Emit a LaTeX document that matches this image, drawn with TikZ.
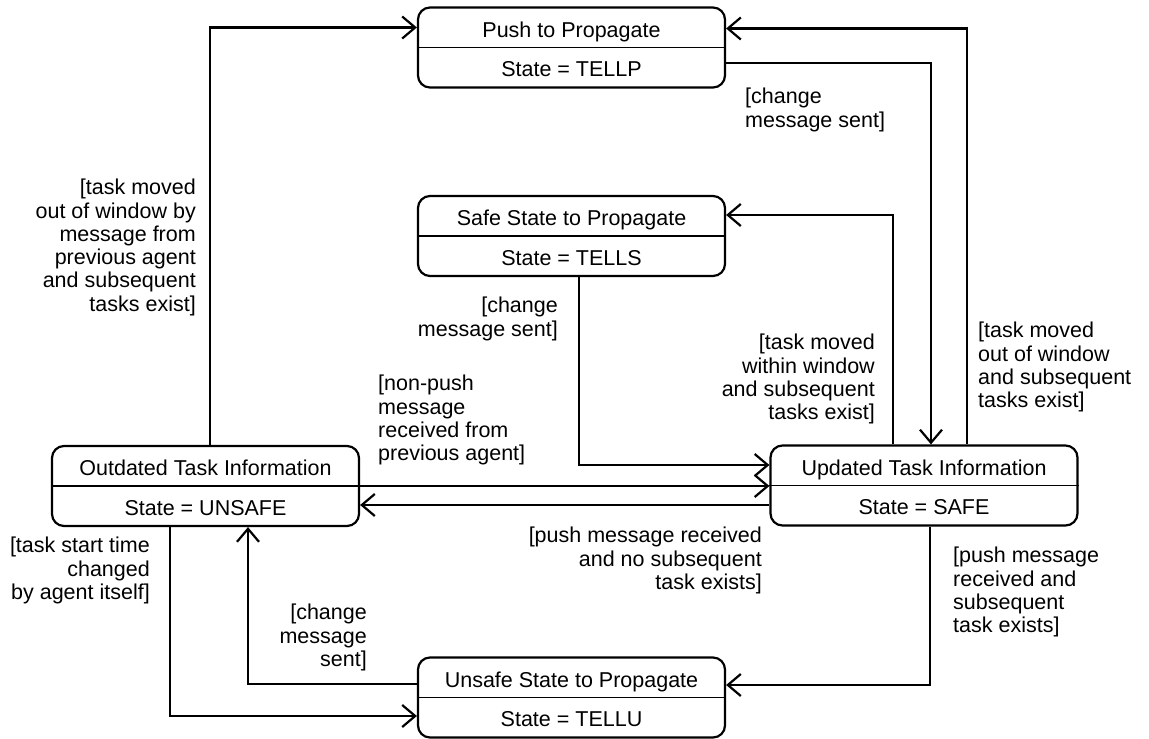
\documentclass[tikz,border=0pt]{standalone}
\usepackage{fontspec}
\setmainfont{Liberation Sans}
\usetikzlibrary{arrows.meta,calc}
\newcommand\diagfont{\fontsize{21.5pt}{23.3pt}\selectfont}
\tikzset{
  statebox/.style={draw, line width=2.2pt, rounded corners=12pt,
    minimum width=307pt, minimum height=80pt, inner sep=0pt},
  divider/.style={line width=1.8pt},
  boxtext/.style={inner sep=0pt, font=\diagfont, anchor=base},
  guard/.style={inner sep=0pt, font=\diagfont},
  trans/.style={line width=2.2pt, -{Straight Barb[length=13pt,width=22pt]}},
}
% a state: rounded box, divider, name above and state value below
\newcommand\umlstate[4]{%
  \node[statebox] (#1) at (#2) {};
  \draw[divider] (#1.west) -- (#1.east);
  \node[boxtext] (#1-name) at ($(#1.center)+(0,-10.5)$) {#3};
  \node[boxtext] (#1-val) at ($(#1.center)+(0,29)$) {#4};
}
\begin{document}
\begin{tikzpicture}[x=1pt,y=-1pt]
\useasboundingbox (0,0) rectangle (1149,739);

\umlstate{push}{571.5,47.5}{Push to Propagate}{State = TELLP}
\umlstate{safe}{571.5,236}{Safe State to Propagate}{State = TELLS}
\umlstate{outd}{205.5,486}{Outdated Task Information}{State = UNSAFE}
\umlstate{upd}{924,485.5}{Updated Task Information}{State = SAFE}
\umlstate{unsafe}{571.5,697.5}{Unsafe State to Propagate}{State = TELLU}

% transitions
\draw[trans] ($(outd.north)+(4.5,0)$) |- ($(push.west)+(0,-20)$);
\draw[trans] ($(push.east)+(0,15.5)$) -| ($(upd.north)+(7,0)$);
\draw[trans] ($(upd.north)+(43,0)$) |- ($(push.east)+(0,-19)$);
\draw[trans] ($(upd.north)+(-31,0)$) |- ($(safe.east)+(0,-21)$);
\draw[trans] ($(safe.south)+(7.5,0)$) |- ($(upd.west)+(0,-20.5)$);
\draw[trans] (outd.east) -- (outd.east -| upd.west);
\draw[trans] ($(upd.west)+(0,19.5)$) -- ($(outd.east)+(0,19)$);
\draw[trans] ($(outd.south)+(-35.5,0)$) |- ($(unsafe.west)+(0,18.5)$);
\draw[trans] ($(unsafe.west)+(0,-13.5)$) -| ($(outd.south)+(42.5,0)$);
\draw[trans] ($(upd.south)+(6,0)$) |- ($(unsafe.east)+(0,-12.5)$);

% guards
\node[guard, anchor=north west, align=left] (g1) at (745,88) {[change\\message sent]};
\node[guard, anchor=north east, align=right] (g2) at (196,179)
  {[task moved\\out of window by\\message from\\previous agent\\and subsequent\\tasks exist]};
\node[guard, anchor=north east, align=right] (g3) at (558,297) {[change\\message sent]};
\node[guard, anchor=north west, align=left] (g4) at (378,375)
  {[non-push\\message\\received from\\previous agent]};
\node[guard, anchor=north east, align=right] (g5) at (875,334)
  {[task moved\\within window\\and subsequent\\tasks exist]};
\node[guard, anchor=north west, align=left] (g6) at (978,322)
  {[task moved\\out of window\\and subsequent\\tasks exist]};
\node[guard, anchor=north east, align=right] (g7) at (762,527)
  {[push message received\\and no subsequent\\task exists]};
\node[guard, anchor=north west, align=left] (g8) at (953,547)
  {[push message\\received and\\subsequent\\task exists]};
\node[guard, anchor=north east, align=right] (g9) at (150,537)
  {[task start time\\changed\\by agent itself]};
\node[guard, anchor=north east, align=right] (g10) at (367,604)
  {[change\\message\\sent]};
\end{tikzpicture}
\end{document}
